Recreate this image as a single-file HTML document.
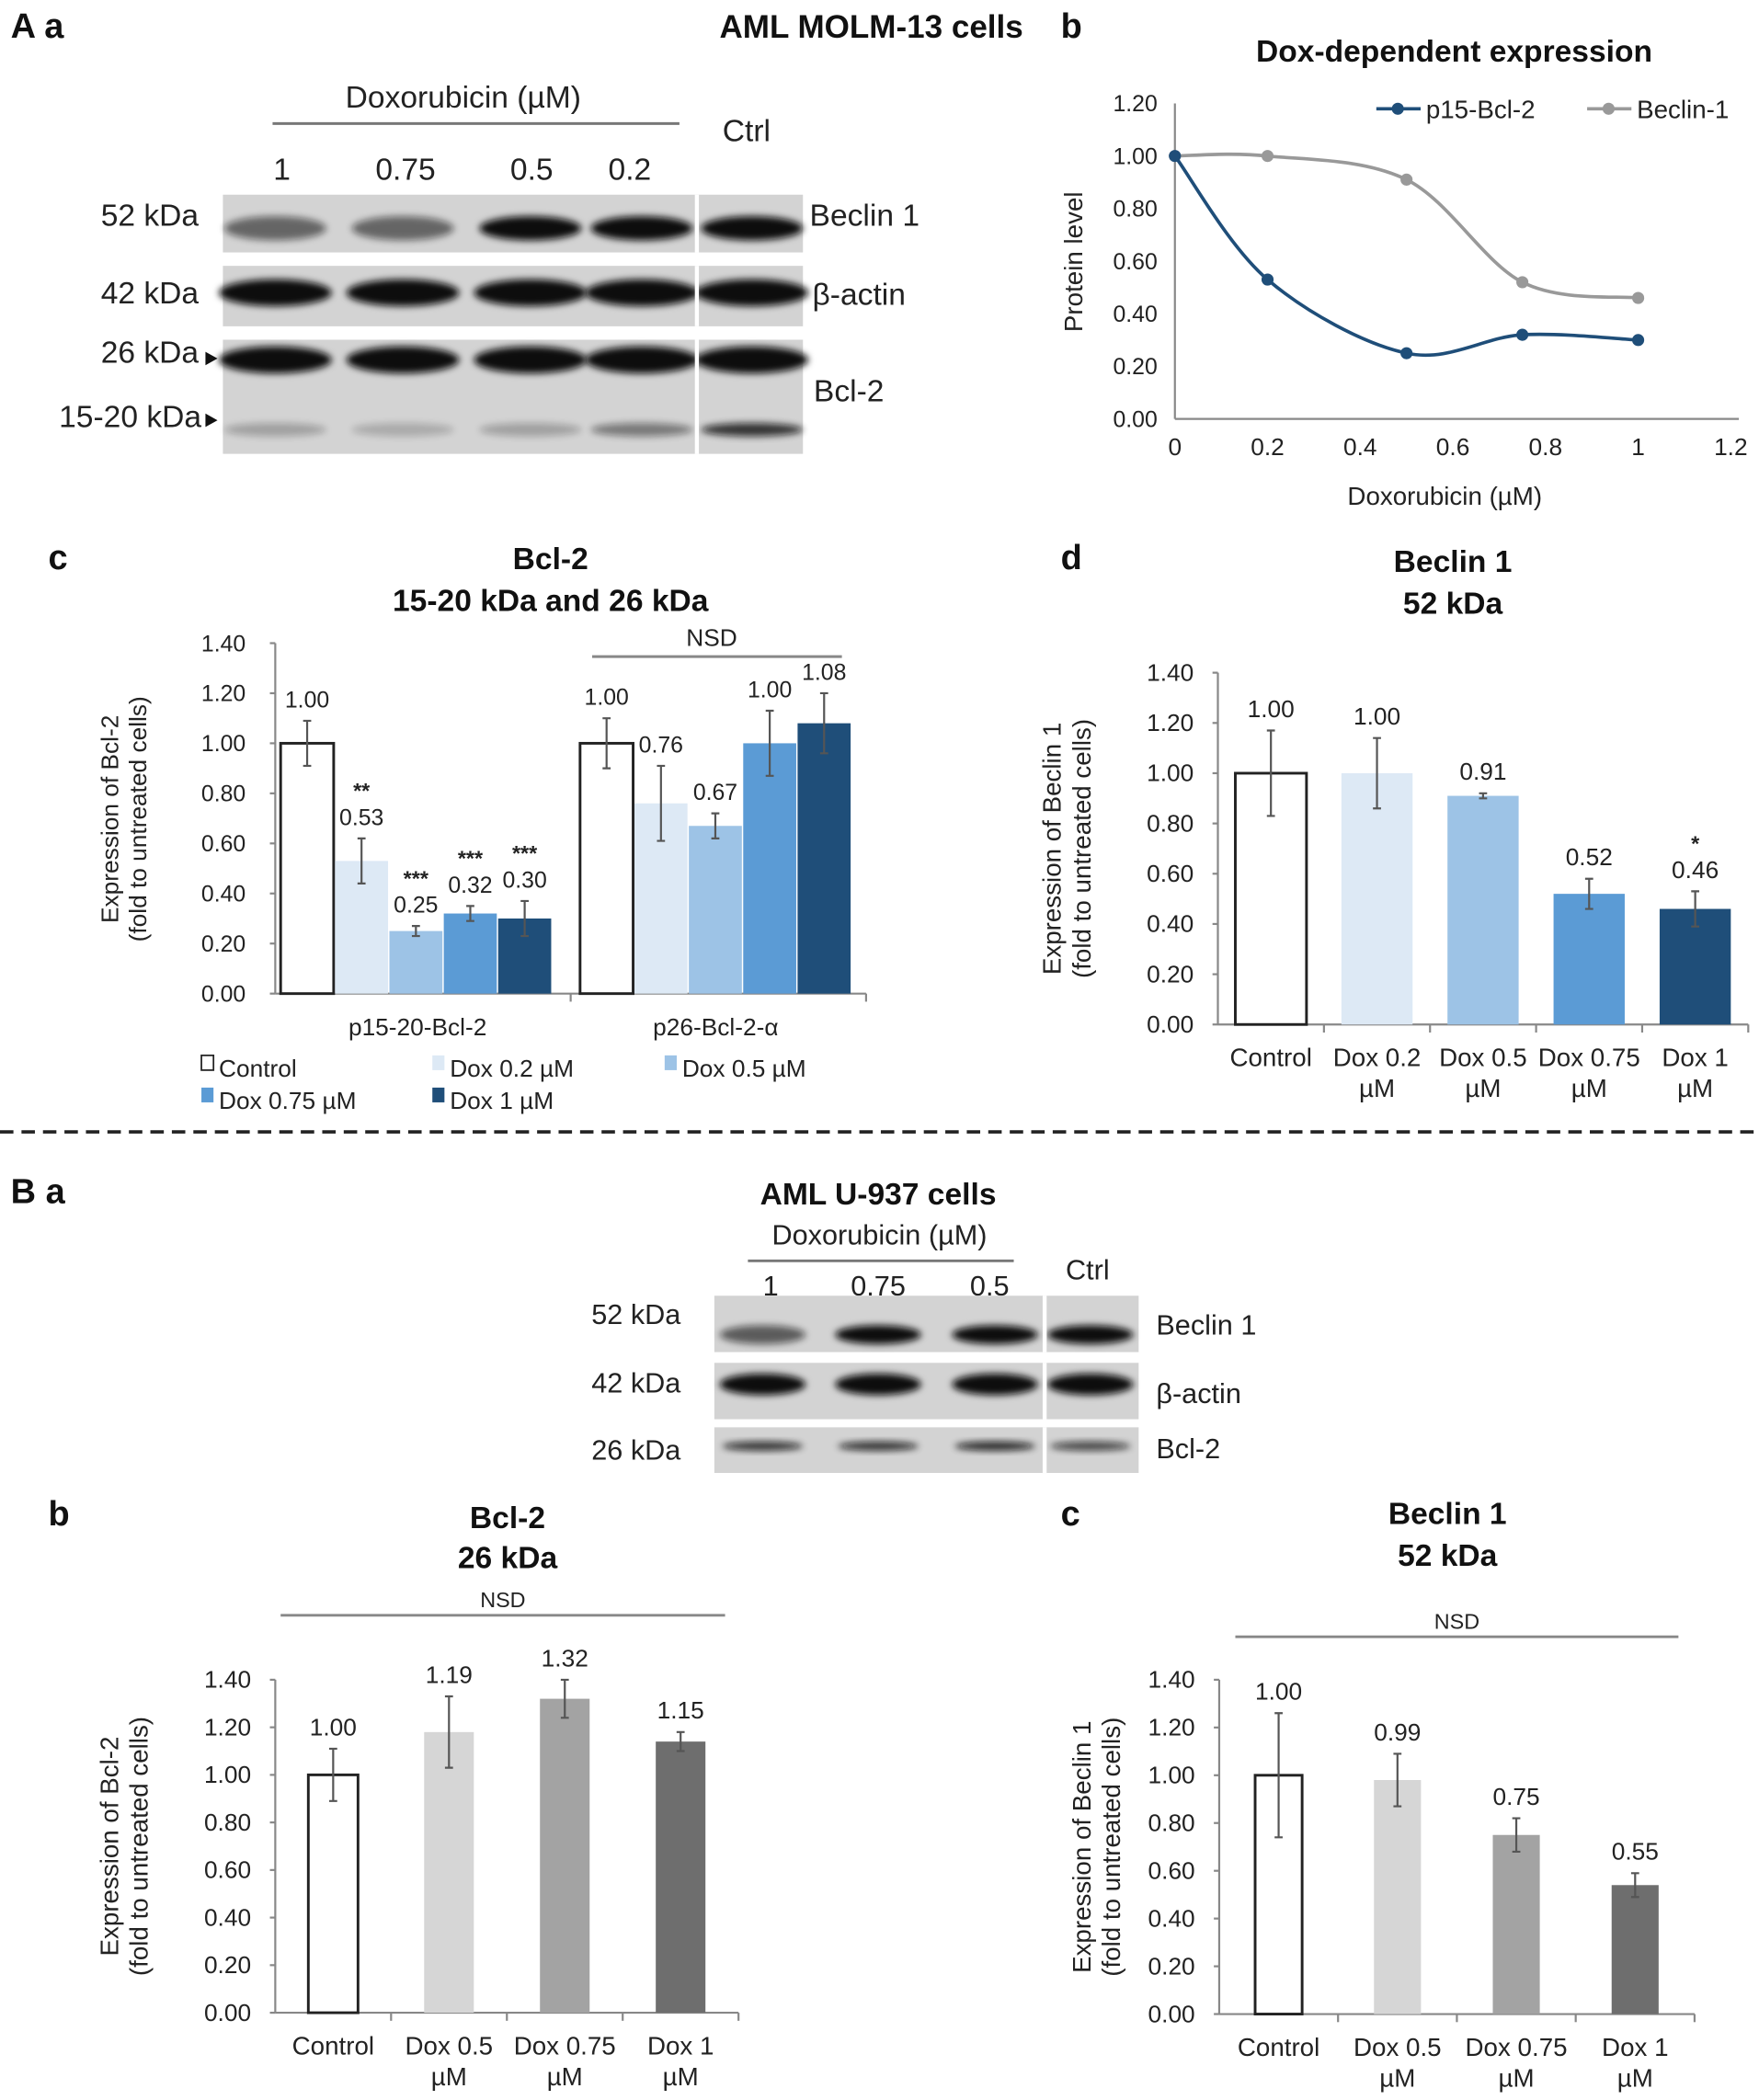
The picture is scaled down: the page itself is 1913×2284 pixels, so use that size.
<!DOCTYPE html>
<html><head><meta charset="utf-8">
<style>
html,body{margin:0;padding:0;background:#fff;}
svg{display:block;}
text{font-family:"Liberation Sans Narrow","Liberation Sans",sans-serif;fill:#222;}
.b{font-weight:bold;fill:#111;}
</style></head>
<body>
<svg id="fig" xmlns="http://www.w3.org/2000/svg" width="1913" height="2284" viewBox="0 0 1310 1564" preserveAspectRatio="none">
<g>
<text class="b" x="8" y="28" font-size="26" font-family="Liberation Sans">A a</text>
<text class="b" x="762" y="28" font-size="24" text-anchor="end">AML MOLM-13 cells</text>
<text class="b" x="790" y="28" font-size="26" font-family="Liberation Sans">b</text>
<text class="b" x="36" y="424" font-size="26" font-family="Liberation Sans">c</text>
<text class="b" x="790" y="424" font-size="26" font-family="Liberation Sans">d</text>
<text class="b" x="8" y="896" font-size="26" font-family="Liberation Sans">B a</text>
<text class="b" x="36" y="1136" font-size="26" font-family="Liberation Sans">b</text>
<text class="b" x="790" y="1136" font-size="26" font-family="Liberation Sans">c</text>
</g>
<line x1="0" y1="843" x2="1310" y2="843" stroke="#222" stroke-width="2.5" stroke-dasharray="10,6"/>
<g id="blotA"></g>
<g id="blotB"></g>
<g id="lineChart"></g>
<g id="chartC"></g>
<g id="chartD"></g>
<g id="chartBb"></g>
<g id="chartBc"></g>
</svg>
<script>
// ---- Line chart data (panel A b)
const doseX = [0, 0.2, 0.5, 0.75, 1];
const p15Values = [1.00, 0.53, 0.25, 0.32, 0.30];
const beclinValues = [1.00, 1.00, 0.91, 0.52, 0.46];
const lineXTicks = ['0','0.2','0.4','0.6','0.8','1','1.2'];
const lineYTicks = ['0.00','0.20','0.40','0.60','0.80','1.00','1.20'];
// ---- Panel A c
const cGroups = ['p15-20-Bcl-2', 'p26-Bcl-2-α'];
const cSeries = ['Control','Dox 0.2 µM','Dox 0.5 µM','Dox 0.75 µM','Dox 1 µM'];
const cP15 = [1.00, 0.53, 0.25, 0.32, 0.30];
const cP15Err = [0.09, 0.09, 0.02, 0.03, 0.07];
const cP26 = [1.00, 0.76, 0.67, 1.00, 1.08];
const cP26Err = [0.10, 0.15, 0.05, 0.13, 0.12];
const cP15Stars = ['', '**', '***', '***', '***'];
// ---- Panel A d
const dCats = [['Control'],['Dox 0.2','µM'],['Dox 0.5','µM'],['Dox 0.75','µM'],['Dox 1','µM']];
const dValues = [1.00, 1.00, 0.91, 0.52, 0.46];
const dErr = [0.17, 0.14, 0.01, 0.06, 0.07];
const dLabels = ['1.00','1.00','0.91','0.52','0.46'];
const dStars = ['','','','','*'];
// ---- Panel B b
const bbCats = [['Control'],['Dox 0.5','µM'],['Dox 0.75','µM'],['Dox 1','µM']];
const bbValues = [1.00, 1.18, 1.32, 1.14];
const bbErr = [0.11, 0.15, 0.08, 0.04];
const bbLabels = ['1.00','1.19','1.32','1.15'];
// ---- Panel B c
const bcCats = [['Control'],['Dox 0.5','µM'],['Dox 0.75','µM'],['Dox 1','µM']];
const bcValues = [1.00, 0.98, 0.75, 0.54];
const bcErr = [0.26, 0.11, 0.07, 0.05];
const bcLabels = ['1.00','0.99','0.75','0.55'];
const barYTicks = ['0.00','0.20','0.40','0.60','0.80','1.00','1.20','1.40'];

const NS='http://www.w3.org/2000/svg';
function mk(parent, tag, attrs, txt){
  const e=document.createElementNS(NS,tag);
  for(const k in attrs) e.setAttribute(k, attrs[k]);
  if(txt!==undefined) e.textContent=txt;
  parent.appendChild(e); return e;
}
function T(parent,x,y,s,size,anchor,extra){
  const a={x:x,y:y,'font-size':size||18,'text-anchor':anchor||'middle'};
  if(extra) for(const k in extra) a[k]=extra[k];
  const t=mk(parent,'text',a,s);
  
  
  return t;
}
const blue=['#ffffff','#dde9f5','#9dc3e6','#5b9bd5','#1f4e79'];
const grey=['#ffffff','#d6d6d6','#a3a3a3','#6e6e6e'];

// ---------- Blots
function blot(g, x0, x1, sep, rows, lanes){
  rows.forEach(r=>{
    const rg=mk(g,'g',{});
    
    
    mk(rg,'rect',{x:x0,y:r.y0,width:x1-x0,height:r.y1-r.y0,fill:'#d3d3d3'});
    r.bands.forEach(b=>{
      lanes.forEach((lx,i)=>{
        const op=b.int[i];
        const e=mk(rg,'ellipse',{cx:lx,cy:b.y,rx:b.rx,ry:b.ry,fill:'#0a0a0a',opacity:op,filter:'url(#blur)'});
        
        
      });
    });
    mk(rg,'rect',{x:sep-1.5,y:r.y0,width:3,height:r.y1-r.y0,fill:'#fff'});
  });
}
const defs=mk(document.getElementById('fig'),'defs',{});
const flt=mk(defs,'filter',{id:'blur',x:'-20%',y:'-50%',width:'140%',height:'200%'});
mk(flt,'feGaussianBlur',{stdDeviation:'2.5'});

(function(){
  const g=document.getElementById('blotA');
  T(g,345,80,'Doxorubicin (µM)',23);
  mk(g,'line',{x1:203,y1:92,x2:506,y2:92,stroke:'#777','stroke-width':2});
  [['1',210],['0.75',302],['0.5',396],['0.2',469]].forEach(a=>T(g,a[1],134,a[0],23));
  T(g,556,105,'Ctrl',23);
  T(g,148,168,'52 kDa',23,'end');T(g,148,226,'42 kDa',23,'end');
  T(g,148,270,'26 kDa',23,'end');T(g,150,318,'15-20 kDa',23,'end');
  mk(g,'path',{d:'M153,262 l9,5 l-9,5z',fill:'#111'});
  mk(g,'path',{d:'M153,308 l9,5 l-9,5z',fill:'#111'});
  T(g,603,168,'Beclin 1',23,'start');T(g,605,227,'β-actin',23,'start');T(g,606,299,'Bcl-2',23,'start');
  blot(g,166,598,519,[
    {y0:145,y1:188,bands:[{y:170,rx:38,ry:9,int:[0.55,0.55,1,1,1]}]},
    {y0:198,y1:243,bands:[{y:218,rx:42,ry:10,int:[1,1,1,1,1]}]},
    {y0:253,y1:338,bands:[{y:268,rx:42,ry:10,int:[1,1,1,1,1]},{y:320,rx:38,ry:5,int:[0.25,0.2,0.25,0.45,0.8]}]}
  ],[205,300,395,478,560]);
})();
(function(){
  const g=document.getElementById('blotB');
  T(g,654,897,'AML U-937 cells',23,'middle',{'class':'b'});
  T(g,655,927,'Doxorubicin (µM)',21);
  mk(g,'line',{x1:557,y1:939,x2:755,y2:939,stroke:'#777','stroke-width':2});
  [['1',574],['0.75',654],['0.5',737]].forEach(a=>T(g,a[1],965,a[0],21));
  T(g,810,953,'Ctrl',21);
  T(g,507,986,'52 kDa',21,'end');T(g,507,1037,'42 kDa',21,'end');T(g,507,1087,'26 kDa',21,'end');
  T(g,861,994,'Beclin 1',21,'start');T(g,861,1045,'β-actin',21,'start');T(g,861,1086,'Bcl-2',21,'start');
  blot(g,532,848,778,[
    {y0:965,y1:1007,bands:[{y:994,rx:32,ry:7,int:[0.6,1,1,1]}]},
    {y0:1015,y1:1057,bands:[{y:1031,rx:32,ry:8,int:[1,1,1,1]}]},
    {y0:1063,y1:1097,bands:[{y:1077,rx:30,ry:3.5,int:[0.8,0.8,0.85,0.7]}]}
  ],[568,654,741,812]);
})();

// ---------- Line chart
(function(){
  const g=document.getElementById('lineChart');
  const X=v=>875+v*(1289-875)/1.2, Y=v=>312-v*(312-77)/1.2;
  T(g,1083,46,'Dox-dependent expression',23,'middle',{'class':'b'});
  mk(g,'line',{x1:875,y1:77,x2:875,y2:312,stroke:'#888','stroke-width':1.5});
  mk(g,'line',{x1:875,y1:312,x2:1295,y2:312,stroke:'#888','stroke-width':1.5});
  lineYTicks.forEach((s,i)=>T(g,862,Y(i*0.2)+6,s,17,'end'));
  lineXTicks.forEach((s,i)=>T(g,X(i*0.2),339,s,18));
  T(g,1076,376,'Doxorubicin (µM)',19);
  T(g,806,195,'Protein level',19,'middle',{transform:'rotate(-90 806 195)'});
  function spline(xs,ys){
    const p=xs.map((x,i)=>[X(x),Y(ys[i])]);
    let d='M'+p[0][0]+','+p[0][1];
    for(let i=0;i<p.length-1;i++){
      const p0=p[i-1]||p[i],p1=p[i],p2=p[i+1],p3=p[i+2]||p[i+1];
      const c1=[p1[0]+(p2[0]-p0[0])/6,p1[1]+(p2[1]-p0[1])/6];
      const c2=[p2[0]-(p3[0]-p1[0])/6,p2[1]-(p3[1]-p1[1])/6];
      d+=' C'+c1+' '+c2+' '+p2;
    }
    return d;
  }
  [[beclinValues,'#999','beclin-line'],[p15Values,'#1f4e79','p15-line']].forEach(s=>{
    const pth=mk(g,'path',{d:spline(doseX,s[0]),fill:'none',stroke:s[1],'stroke-width':2.5});
    
    
    doseX.forEach((x,i)=>{
      const c=mk(g,'circle',{cx:X(x),cy:Y(s[0][i]),r:4.5,fill:s[1]});
      
      
    });
  });
  const lg=mk(g,'g',{});
  
  
  mk(lg,'line',{x1:1025,y1:81,x2:1058,y2:81,stroke:'#1f4e79','stroke-width':2.5});
  mk(lg,'circle',{cx:1041,cy:81,r:4.5,fill:'#1f4e79'});
  T(lg,1062,88,'p15-Bcl-2',19,'start');
  mk(lg,'line',{x1:1182,y1:81,x2:1215,y2:81,stroke:'#999','stroke-width':2.5});
  mk(lg,'circle',{cx:1198,cy:81,r:4.5,fill:'#999'});
  T(lg,1219,88,'Beclin-1',19,'start');
})();

// ---------- generic bar axis
function yAxis(g,ax,y0,y1,tickLabelX,fs){
  const Y=v=>y0-v*(y0-y1)/1.4;
  mk(g,'line',{x1:ax,y1:y1,x2:ax,y2:y0,stroke:'#888','stroke-width':1.5});
  barYTicks.forEach((s,i)=>{
    mk(g,'line',{x1:ax-4,y1:Y(i*0.2),x2:ax,y2:Y(i*0.2),stroke:'#888','stroke-width':1.5});
    T(g,tickLabelX,Y(i*0.2)+6,s,fs||18,'end');
  });
  return Y;
}
function bar(g,x,w,Y,v,e,color,label,star,fs){
  const b=mk(g,'rect',{x:x,y:Y(v),width:w,height:Y(0)-Y(v),fill:color,stroke:color==='#ffffff'?'#222':'none','stroke-width':2});
  
  
  const cx=x+w/2;
  const eb=mk(g,'path',{d:`M${cx},${Y(v+e)}V${Y(v-e)}M${cx-3},${Y(v+e)}h6M${cx-3},${Y(v-e)}h6`,stroke:'#555','stroke-width':1.5,fill:'none'});
  
  
  if(label!==undefined) T(g,cx,Y(v+e)-10,label,fs||17);
  if(star) T(g,cx,Y(v+e)-30,star,16,'middle',{'font-weight':'bold'});
}

// ---------- Panel c
(function(){
  const g=document.getElementById('chartC');
  T(g,410,424,'Bcl-2',23,'middle',{'class':'b'});
  T(g,410,455,'15-20 kDa and 26 kDa',23,'middle',{'class':'b'});
  const Y=yAxis(g,205,740,479,183,17);
  mk(g,'line',{x1:205,y1:740,x2:645,y2:740,stroke:'#888','stroke-width':1.5});
  [425,645].forEach(x=>mk(g,'line',{x1:x,y1:740,x2:x,y2:746,stroke:'#888','stroke-width':1.5}));
  const w=40.5;
  cP15.forEach((v,i)=>bar(g,209+i*w,w-1,Y,v,cP15Err[i],blue[i],v.toFixed(2),cP15Stars[i]));
  cP26.forEach((v,i)=>bar(g,432+i*w,w-1,Y,v,cP26Err[i],blue[i],v.toFixed(2)));
  T(g,311,771,cGroups[0],18);T(g,533,771,cGroups[1],18);
  mk(g,'line',{x1:441,y1:489,x2:627,y2:489,stroke:'#888','stroke-width':2});
  T(g,530,481,'NSD',18);
  T(g,88,610,'Expression of Bcl-2',18,'middle',{transform:'rotate(-90 88 610)'});
  T(g,109,610,'(fold to untreated cells)',18,'middle',{transform:'rotate(-90 109 610)'});
  const lg=mk(g,'g',{});
  
  
  const pos=[[150,798],[322,798],[495,798],[150,822],[322,822]];
  cSeries.forEach((s,i)=>{
    mk(lg,'rect',{x:pos[i][0],y:pos[i][1]-12,width:9,height:11,fill:blue[i],stroke:i===0?'#222':'none','stroke-width':1.2});
    T(lg,pos[i][0]+13,pos[i][1]+4,s,18,'start');
  });
})();

// ---------- simple bar charts
function simple(id,cats,vals,errs,labels,stars,colors,o){
  const g=document.getElementById(id);
  T(g,o.tx,o.ty1,o.t1,23,'middle',{'class':'b'});
  T(g,o.tx,o.ty2,o.t2,23,'middle',{'class':'b'});
  const Y=yAxis(g,o.ax,o.y0,o.y1,o.ax-18,18);
  mk(g,'line',{x1:o.ax,y1:o.y0,x2:o.xe,y2:o.y0,stroke:'#888','stroke-width':1.5});
  const step=(o.xe-o.ax)/cats.length;
  for(let i=1;i<=cats.length;i++) mk(g,'line',{x1:o.ax+i*step,y1:o.y0,x2:o.ax+i*step,y2:o.y0+6,stroke:'#888','stroke-width':1.5});
  cats.forEach((c,i)=>{
    const cx=o.ax+(i+0.5)*step;
    bar(g,cx-o.bw/2,o.bw,Y,vals[i],errs[i],colors[i],labels[i],stars?stars[i]:'',18);
    c.forEach((l,j)=>T(g,cx,o.y0+31+j*23,l,19));
  });
  if(o.nsd){mk(g,'line',{x1:o.nsd[0],y1:o.nsd[2],x2:o.nsd[1],y2:o.nsd[2],stroke:'#888','stroke-width':2});
    T(g,(o.nsd[0]+o.nsd[1])/2,o.nsd[2]-6,'NSD',16);}
  T(g,o.yl,(o.y0+o.y1)/2,o.yt,19,'middle',{transform:`rotate(-90 ${o.yl} ${(o.y0+o.y1)/2})`});
  T(g,o.yl+22,(o.y0+o.y1)/2,'(fold to untreated cells)',19,'middle',{transform:`rotate(-90 ${o.yl+22} ${(o.y0+o.y1)/2})`});
}
simple('chartD',dCats,dValues,dErr,dLabels,dStars,blue,{tx:1082,ty1:426,ty2:457,t1:'Beclin 1',t2:'52 kDa',ax:907,y0:763,y1:501,xe:1302,bw:53,yl:790,yt:'Expression of Beclin 1'});
simple('chartBb',bbCats,bbValues,bbErr,bbLabels,null,grey,{tx:378,ty1:1138,ty2:1168,t1:'Bcl-2',t2:'26 kDa',ax:205,y0:1499,y1:1251,xe:550,bw:37,yl:88,yt:'Expression of Bcl-2',nsd:[209,540,1203]});
simple('chartBc',bcCats,bcValues,bcErr,bcLabels,null,grey,{tx:1078,ty1:1135,ty2:1166,t1:'Beclin 1',t2:'52 kDa',ax:908,y0:1500,y1:1251,xe:1262,bw:35,yl:812,yt:'Expression of Beclin 1',nsd:[920,1250,1219]});
</script>
</body></html>
